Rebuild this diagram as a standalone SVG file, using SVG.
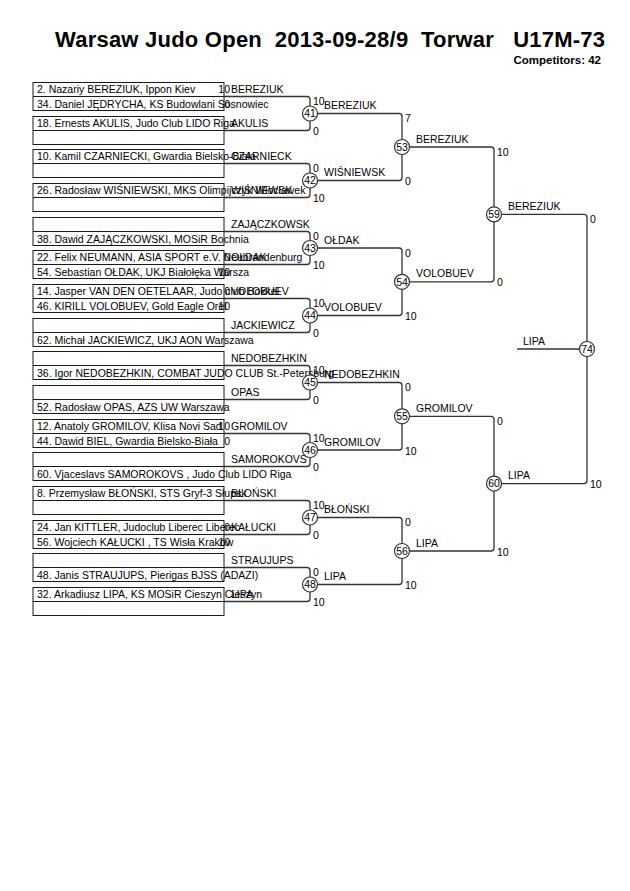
<svg xmlns="http://www.w3.org/2000/svg" width="630" height="891" viewBox="0 0 630 891">
<style>
text{font-family:"Liberation Sans",Arial,sans-serif;font-size:10.5px;fill:#000}
.title{font-size:22px;font-weight:bold}
.comp{font-size:11.5px;font-weight:bold;text-anchor:end}
.box{fill:none;stroke:#1a1a1a;stroke-width:1}
.ln{fill:none;stroke:#333;stroke-width:1.3}
.sc{text-anchor:end}
.cn{text-anchor:middle}
circle{fill:#fff;stroke:#333;stroke-width:1.2}
</style>
<rect width="630" height="891" fill="#fff"/>
<text class="title" x="55" y="47" xml:space="preserve" textLength="550" lengthAdjust="spacing">Warsaw Judo Open  2013-09-28/9  Torwar   U17M-73</text>
<text class="comp" x="601" y="64">Competitors: 42</text>

<g id="connectors">
<path class="ln" d="M224 96.5H307Q310 96.5 310 99.5V127.5Q310 130.5 307 130.5H224"/>
<path class="ln" d="M224 163.5H307Q310 163.5 310 166.5V194.5Q310 197.5 307 197.5H224"/>
<path class="ln" d="M224 231.5H307Q310 231.5 310 234.5V261.5Q310 264.5 307 264.5H224"/>
<path class="ln" d="M224 298.5H307Q310 298.5 310 301.5V329.5Q310 332.5 307 332.5H224"/>
<path class="ln" d="M224 365.5H307Q310 365.5 310 368.5V396.5Q310 399.5 307 399.5H224"/>
<path class="ln" d="M224 433.5H307Q310 433.5 310 436.5V463.5Q310 466.5 307 466.5H224"/>
<path class="ln" d="M224 500.5H307Q310 500.5 310 503.5V531.5Q310 534.5 307 534.5H224"/>
<path class="ln" d="M224 567.5H307Q310 567.5 310 570.5V598.5Q310 601.5 307 601.5H224"/>
<path class="ln" d="M310 113.5H399Q402 113.5 402 116.5V177.5Q402 180.5 399 180.5H310"/>
<path class="ln" d="M310 248H399Q402 248 402 251V312.5Q402 315.5 399 315.5H310"/>
<path class="ln" d="M310 382.5H399Q402 382.5 402 385.5V447Q402 450 399 450H310"/>
<path class="ln" d="M310 517.5H399Q402 517.5 402 520.5V581.5Q402 584.5 399 584.5H310"/>
<path class="ln" d="M402 147H491Q494 147 494 150V278.8Q494 281.8 491 281.8H402"/>
<path class="ln" d="M402 416.3H491Q494 416.3 494 419.3V548Q494 551 491 551H402"/>
<path class="ln" d="M494 214.4H584Q587 214.4 587 217.4V480.6Q587 483.6 584 483.6H494"/>
<path class="ln" d="M517 349H587"/>
</g>

<g id="entry-0"><rect class="box" x="33" y="82.5" width="191" height="28"/><line class="box" x1="33" y1="96.5" x2="224" y2="96.5"/>
<text x="37" y="92.8">2. Nazariy BEREZIUK, Ippon Kiev</text><text x="37" y="107.5">34. Daniel JĘDRYCHA, KS Budowlani Sosnowiec</text>
<text class="sc" x="230" y="92.8">10</text><text class="sc" x="230" y="107.5">0</text><text x="231" y="92.8">BEREZIUK</text></g>
<g id="entry-1"><rect class="box" x="33" y="116.5" width="191" height="28"/><line class="box" x1="33" y1="130.5" x2="224" y2="130.5"/>
<text x="37" y="126.8">18. Ernests AKULIS, Judo Club LIDO Riga</text><text x="231" y="126.8">AKULIS</text></g>
<g id="entry-2"><rect class="box" x="33" y="149.5" width="191" height="28"/><line class="box" x1="33" y1="163.5" x2="224" y2="163.5"/>
<text x="37" y="159.8">10. Kamil CZARNIECKI, Gwardia Bielsko-Biała</text><text x="231" y="159.8">CZARNIECK</text></g>
<g id="entry-3"><rect class="box" x="33" y="183.5" width="191" height="28"/><line class="box" x1="33" y1="197.5" x2="224" y2="197.5"/>
<text x="37" y="193.8">26. Radosław WIŚNIEWSKI, MKS Olimpijczyk Włocławek</text><text x="231" y="193.8">WIŚNIEWSK</text></g>
<g id="entry-4"><rect class="box" x="33" y="217.5" width="191" height="28"/><line class="box" x1="33" y1="231.5" x2="224" y2="231.5"/>
<text x="37" y="242.5">38. Dawid ZAJĄCZKOWSKI, MOSiR Bochnia</text><text x="231" y="227.8">ZAJĄCZKOWSK</text></g>
<g id="entry-5"><rect class="box" x="33" y="250.5" width="191" height="28"/><line class="box" x1="33" y1="264.5" x2="224" y2="264.5"/>
<text x="37" y="260.8">22. Felix NEUMANN, ASIA SPORT e.V. Neubrandenburg</text><text x="37" y="275.5">54. Sebastian OŁDAK, UKJ Białołęka Warsza</text>
<text class="sc" x="230" y="260.8">0</text><text class="sc" x="230" y="275.5">10</text><text x="231" y="260.8">OŁDAK</text></g>
<g id="entry-6"><rect class="box" x="33" y="284.5" width="191" height="28"/><line class="box" x1="33" y1="298.5" x2="224" y2="298.5"/>
<text x="37" y="294.8">14. Jasper VAN DEN OETELAAR, Judo club Bokkel</text><text x="37" y="309.5">46. KIRILL VOLOBUEV, Gold Eagle Orel</text>
<text class="sc" x="230" y="294.8">0</text><text class="sc" x="230" y="309.5">10</text><text x="231" y="294.8">VOLOBUEV</text></g>
<g id="entry-7"><rect class="box" x="33" y="318.5" width="191" height="28"/><line class="box" x1="33" y1="332.5" x2="224" y2="332.5"/>
<text x="37" y="343.5">62. Michał JACKIEWICZ, UKJ AON Warszawa</text><text x="231" y="328.8">JACKIEWICZ</text></g>
<g id="entry-8"><rect class="box" x="33" y="351.5" width="191" height="28"/><line class="box" x1="33" y1="365.5" x2="224" y2="365.5"/>
<text x="37" y="376.5">36. Igor NEDOBEZHKIN, COMBAT JUDO CLUB St.-Petersburg</text><text x="231" y="361.8">NEDOBEZHKIN</text></g>
<g id="entry-9"><rect class="box" x="33" y="385.5" width="191" height="28"/><line class="box" x1="33" y1="399.5" x2="224" y2="399.5"/>
<text x="37" y="410.5">52. Radosław OPAS, AZS UW Warszawa</text><text x="231" y="395.8">OPAS</text></g>
<g id="entry-10"><rect class="box" x="33" y="419.5" width="191" height="28"/><line class="box" x1="33" y1="433.5" x2="224" y2="433.5"/>
<text x="37" y="429.8">12. Anatoly GROMILOV, Klisa Novi Sad</text><text x="37" y="444.5">44. Dawid BIEL, Gwardia Bielsko-Biała</text>
<text class="sc" x="230" y="429.8">10</text><text class="sc" x="230" y="444.5">0</text><text x="231" y="429.8">GROMILOV</text></g>
<g id="entry-11"><rect class="box" x="33" y="452.5" width="191" height="28"/><line class="box" x1="33" y1="466.5" x2="224" y2="466.5"/>
<text x="37" y="477.5">60. Vjaceslavs SAMOROKOVS , Judo Club LIDO Riga</text><text x="231" y="462.8">SAMOROKOVS</text></g>
<g id="entry-12"><rect class="box" x="33" y="486.5" width="191" height="28"/><line class="box" x1="33" y1="500.5" x2="224" y2="500.5"/>
<text x="37" y="496.8">8. Przemysław BŁOŃSKI, STS Gryf-3 Słupsk</text><text x="231" y="496.8">BŁOŃSKI</text></g>
<g id="entry-13"><rect class="box" x="33" y="520.5" width="191" height="28"/><line class="box" x1="33" y1="534.5" x2="224" y2="534.5"/>
<text x="37" y="530.8">24. Jan KITTLER, Judoclub Liberec Liberec</text><text x="37" y="545.5">56. Wojciech KAŁUCKI , TS Wisła Kraków</text>
<text class="sc" x="230" y="530.8">0</text><text class="sc" x="230" y="545.5">10</text><text x="231" y="530.8">KAŁUCKI</text></g>
<g id="entry-14"><rect class="box" x="33" y="553.5" width="191" height="28"/><line class="box" x1="33" y1="567.5" x2="224" y2="567.5"/>
<text x="37" y="578.5">48. Janis STRAUJUPS, Pierigas BJSS (ADAZI)</text><text x="231" y="563.8">STRAUJUPS</text></g>
<g id="entry-15"><rect class="box" x="33" y="587.5" width="191" height="28"/><line class="box" x1="33" y1="601.5" x2="224" y2="601.5"/>
<text x="37" y="597.8">32. Arkadiusz LIPA, KS MOSiR Cieszyn Cieszyn</text><text x="231" y="597.8">LIPA</text></g>

<g id="match-41"><circle cx="310" cy="113.5" r="7.5"/><text class="cn" x="310" y="117.3">41</text><text x="313" y="105">10</text><text x="313" y="135">0</text><text x="324" y="109">BEREZIUK</text></g>
<g id="match-42"><circle cx="310" cy="180.5" r="7.5"/><text class="cn" x="310" y="184.3">42</text><text x="313" y="172">0</text><text x="313" y="202">10</text><text x="324" y="176">WIŚNIEWSK</text></g>
<g id="match-43"><circle cx="310" cy="248" r="7.5"/><text class="cn" x="310" y="251.8">43</text><text x="313" y="240">0</text><text x="313" y="269">10</text><text x="324" y="243.5">OŁDAK</text></g>
<g id="match-44"><circle cx="310" cy="315.5" r="7.5"/><text class="cn" x="310" y="319.3">44</text><text x="313" y="307">10</text><text x="313" y="337">0</text><text x="324" y="311">VOLOBUEV</text></g>
<g id="match-45"><circle cx="310" cy="382.5" r="7.5"/><text class="cn" x="310" y="386.3">45</text><text x="313" y="374">10</text><text x="313" y="404">0</text><text x="324" y="378">NEDOBEZHKIN</text></g>
<g id="match-46"><circle cx="310" cy="450" r="7.5"/><text class="cn" x="310" y="453.8">46</text><text x="313" y="442">10</text><text x="313" y="471">0</text><text x="324" y="445.5">GROMILOV</text></g>
<g id="match-47"><circle cx="310" cy="517.5" r="7.5"/><text class="cn" x="310" y="521.3">47</text><text x="313" y="509">10</text><text x="313" y="539">0</text><text x="324" y="513">BŁOŃSKI</text></g>
<g id="match-48"><circle cx="310" cy="584.5" r="7.5"/><text class="cn" x="310" y="588.3">48</text><text x="313" y="576">0</text><text x="313" y="606">10</text><text x="324" y="580">LIPA</text></g>

<g id="match-53"><circle cx="402" cy="147" r="7.5"/><text class="cn" x="402" y="150.8">53</text><text x="405" y="122">7</text><text x="405" y="185">0</text><text x="416" y="142.5">BEREZIUK</text></g>
<g id="match-54"><circle cx="402" cy="281.8" r="7.5"/><text class="cn" x="402" y="285.6">54</text><text x="405" y="256.5">0</text><text x="405" y="320">10</text><text x="416" y="277.3">VOLOBUEV</text></g>
<g id="match-55"><circle cx="402" cy="416.3" r="7.5"/><text class="cn" x="402" y="420.1">55</text><text x="405" y="391">0</text><text x="405" y="454.5">10</text><text x="416" y="411.8">GROMILOV</text></g>
<g id="match-56"><circle cx="402" cy="551" r="7.5"/><text class="cn" x="402" y="554.8">56</text><text x="405" y="526">0</text><text x="405" y="589">10</text><text x="416" y="546.5">LIPA</text></g>

<g id="match-59"><circle cx="494" cy="214.4" r="7.5"/><text class="cn" x="494" y="218.2">59</text><text x="497" y="155.5">10</text><text x="497" y="286.3">0</text><text x="508" y="210">BEREZIUK</text></g>
<g id="match-60"><circle cx="494" cy="483.6" r="7.5"/><text class="cn" x="494" y="487.4">60</text><text x="497" y="424.8">0</text><text x="497" y="555.5">10</text><text x="508" y="479">LIPA</text></g>

<g id="match-74"><circle cx="587" cy="349" r="7.5"/><text class="cn" x="587" y="352.8">74</text><text x="590" y="223">0</text><text x="590" y="488">10</text><text x="523" y="345">LIPA</text></g>
</svg>
